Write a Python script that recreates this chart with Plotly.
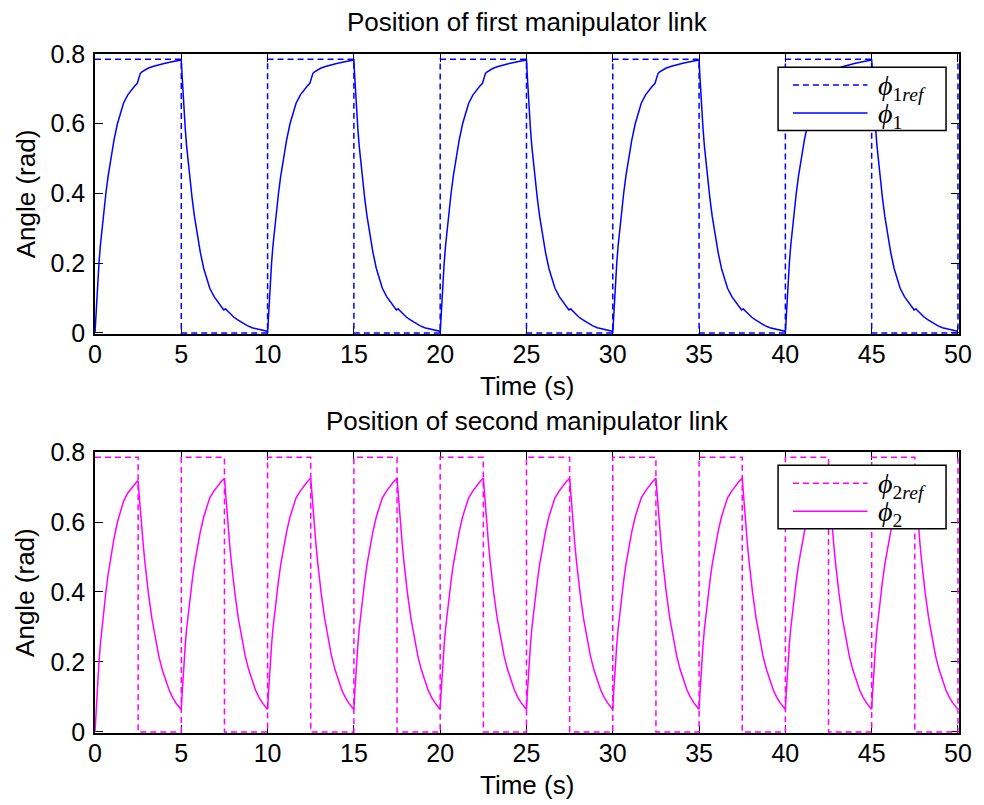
import plotly.graph_objects as go

# ---------------- data ----------------
# first link: one 10 s cycle (rise 0-5 s, decay 5-10 s)
top_cycle_t = [0, 0.05, 0.1, 0.16, 0.23, 0.31, 0.4, 0.5, 0.63, 0.76, 0.9, 1.1, 1.3, 1.48, 1.65,
               1.9, 2.1, 2.3, 2.45, 2.5, 2.56, 2.62, 2.7, 2.85, 3.07, 3.35, 3.64, 4.0, 4.4, 4.8, 5.0,
               5.05, 5.1, 5.16, 5.23, 5.31, 5.4, 5.5, 5.63, 5.76, 5.9, 6.1, 6.3, 6.48, 6.65, 6.9,
               7.1, 7.3, 7.46, 7.52, 7.57, 7.64, 7.86, 8.05, 8.25, 8.5, 8.82, 9.1, 9.4, 9.7, 9.97]
top_cycle_v = [0, 0.05, 0.097, 0.145, 0.2, 0.25, 0.297, 0.345, 0.4, 0.45, 0.497, 0.553, 0.6, 0.632, 0.659,
               0.683, 0.697, 0.708, 0.716, 0.725, 0.738, 0.744, 0.748, 0.753, 0.759, 0.764, 0.769, 0.773, 0.777, 0.781, 0.783,
               0.735, 0.688, 0.64, 0.585, 0.535, 0.488, 0.44, 0.385, 0.335, 0.29, 0.232, 0.185, 0.153, 0.128, 0.104,
               0.09, 0.077, 0.066, 0.068, 0.069, 0.065, 0.054, 0.045, 0.038, 0.03, 0.021, 0.015, 0.011, 0.007, 0.005]
top_cycle_starts = [0, 10, 20, 30, 40]

ref1_t = [0, 5, 10, 15, 20, 25, 30, 35, 40, 45, 50]
ref1_v = [0.785, 0, 0.785, 0, 0.785, 0, 0.785, 0, 0.785, 0, 0.785]

# second link: first 5 s cycle (starting from rest)
bot_first_t = [0, 0.05, 0.1, 0.16, 0.23, 0.31, 0.4, 0.5, 0.63, 0.76, 0.9, 1.1, 1.3, 1.48, 1.65,
               1.9, 2.1, 2.3, 2.45, 2.5,
               2.55, 2.6, 2.7, 2.8, 2.9, 3.0, 3.1, 3.3, 3.5, 3.7, 3.9, 4.1, 4.3, 4.5, 4.7, 4.97]
bot_first_v = [0, 0.05, 0.097, 0.145, 0.2, 0.25, 0.297, 0.345, 0.4, 0.45, 0.497, 0.553, 0.6, 0.632, 0.659,
               0.683, 0.697, 0.708, 0.716, 0.718,
               0.683, 0.65, 0.588, 0.532, 0.481, 0.436, 0.394, 0.323, 0.264, 0.216, 0.177, 0.145, 0.119, 0.098, 0.082, 0.065]
# second link: steady 5 s cycle
bot_cycle_t = [0, 0.05, 0.1, 0.16, 0.23, 0.31, 0.4, 0.5, 0.63, 0.76, 0.9, 1.1, 1.3, 1.48, 1.65,
               1.9, 2.1, 2.3, 2.5,
               2.55, 2.6, 2.7, 2.8, 2.9, 3.0, 3.1, 3.3, 3.5, 3.7, 3.9, 4.1, 4.3, 4.5, 4.7, 4.97]
bot_cycle_v = [0.065, 0.111, 0.154, 0.2, 0.249, 0.295, 0.338, 0.383, 0.432, 0.478, 0.521, 0.572, 0.615, 0.645, 0.669,
               0.689, 0.703, 0.715, 0.725,
               0.69, 0.656, 0.594, 0.537, 0.486, 0.44, 0.398, 0.326, 0.267, 0.218, 0.179, 0.146, 0.12, 0.099, 0.083, 0.066]
bot_cycle_starts = [5, 10, 15, 20, 25, 30, 35, 40, 45]

ref2_t = [0, 2.5, 5, 7.5, 10, 12.5, 15, 17.5, 20, 22.5, 25, 27.5, 30, 32.5, 35, 37.5, 40, 42.5, 45, 47.5, 50]
ref2_v = [0.785, 0, 0.785, 0, 0.785, 0, 0.785, 0, 0.785, 0, 0.785, 0, 0.785, 0, 0.785, 0, 0.785, 0, 0.785, 0, 0.785]

x_ticks = [0, 5, 10, 15, 20, 25, 30, 35, 40, 45, 50]
y_ticks = [0, 0.2, 0.4, 0.6, 0.8]
y_tick_labels = ["0", "0.2", "0.4", "0.6", "0.8"]

titles = ["Position of first manipulator link", "Position of second manipulator link"]
x_label = "Time (s)"
y_label = "Angle (rad)"
names = [["<i>ϕ</i><sub>1<i>ref</i></sub>", "<i>ϕ</i><sub>1</sub>"],
         ["<i>ϕ</i><sub>2<i>ref</i></sub>", "<i>ϕ</i><sub>2</sub>"]]

# ---------------- assemble full series ----------------
phi1_t, phi1_v = [], []
for s in top_cycle_starts:
    phi1_t += [s + t for t in top_cycle_t]
    phi1_v += list(top_cycle_v)

phi2_t, phi2_v = list(bot_first_t), list(bot_first_v)
for s in bot_cycle_starts:
    phi2_t += [s + t for t in bot_cycle_t]
    phi2_v += list(bot_cycle_v)

BLUE = "#0000ff"
MAG = "#ff00ff"
DASH = "6px,4px"
LW = 1.5

fig = go.Figure()
fig.add_trace(go.Scatter(x=ref1_t, y=ref1_v, mode="lines", name="phi1ref",
                         line=dict(color=BLUE, width=LW, dash=DASH, shape="hv"),
                         xaxis="x", yaxis="y"))
fig.add_trace(go.Scatter(x=phi1_t, y=phi1_v, mode="lines", name="phi1",
                         line=dict(color=BLUE, width=LW),
                         xaxis="x", yaxis="y"))
fig.add_trace(go.Scatter(x=ref2_t, y=ref2_v, mode="lines", name="phi2ref",
                         line=dict(color=MAG, width=LW, dash=DASH, shape="hv"),
                         xaxis="x2", yaxis="y2"))
fig.add_trace(go.Scatter(x=phi2_t, y=phi2_v, mode="lines", name="phi2",
                         line=dict(color=MAG, width=LW),
                         xaxis="x2", yaxis="y2"))

SANS = "Liberation Sans, Arial, sans-serif"
tickfont = dict(family=SANS, size=25, color="black")
axis_common = dict(showline=True, linecolor="black", linewidth=1.5, mirror="allticks",
                   ticks="inside", ticklen=8, tickwidth=1, tickcolor="black",
                   showgrid=False, zeroline=False, tickfont=tickfont, layer="below traces")

xa = dict(range=[0, 50.06], tickvals=x_ticks, ticktext=[str(v) for v in x_ticks],
          ticklabelstandoff=-3, **axis_common)
ya = dict(range=[-0.003, 0.8], tickvals=y_ticks, ticktext=y_tick_labels,
          ticklabelstandoff=3, **axis_common)

top_dom = [0.5876, 1.0]
bot_dom = [0.0, 0.4138]

labfont = dict(family=SANS, size=26, color="black")
annotations = []
shapes = []
for (ytitle, ylab_y, xlab_y, txt) in [(1.047, 0.794, 0.5115, titles[0]), (0.4595, 0.207, -0.0765, titles[1])]:
    annotations.append(dict(text=txt, x=0.5, y=ytitle, xref="paper", yref="paper",
                            xanchor="center", yanchor="middle", showarrow=False, font=labfont))
    annotations.append(dict(text=y_label, x=-0.0805, y=ylab_y, xref="paper", yref="paper",
                            xanchor="center", yanchor="middle", showarrow=False, font=labfont,
                            textangle=-90))
    annotations.append(dict(text=x_label, x=0.5, y=xlab_y, xref="paper", yref="paper",
                            xanchor="center", yanchor="middle", showarrow=False, font=labfont))

# legend boxes (drawn in axis-domain coordinates of each subplot)
legfont = dict(family="Liberation Serif, DejaVu Serif, serif", size=28, color="black")
for (xr, yr, color, labels) in [("x domain", "y domain", BLUE, names[0]),
                                ("x2 domain", "y2 domain", MAG, names[1])]:
    shapes.append(dict(type="rect", xref=xr, yref=yr, x0=0.7906, x1=0.985, y0=0.727, y1=0.953,
                       line=dict(color="black", width=1.5), fillcolor="white", layer="above"))
    for (ly, dash, lab) in [(0.889, DASH, labels[0]), (0.789, "solid", labels[1])]:
        shapes.append(dict(type="line", xref=xr, yref=yr, x0=0.8078, x1=0.8941, y0=ly, y1=ly,
                           line=dict(color=color, width=LW, dash=dash), layer="above"))
        annotations.append(dict(text=lab, x=0.9035, y=ly, xref=xr, yref=yr, xanchor="left",
                                yanchor="middle", showarrow=False, font=legfont, yshift=-2))

fig.update_layout(
    width=984, height=805,
    margin=dict(l=95, r=20, t=54, b=72),
    paper_bgcolor="white", plot_bgcolor="white",
    xaxis=dict(domain=[0, 1], anchor="y", **xa),
    yaxis=dict(domain=top_dom, anchor="x", **ya),
    xaxis2=dict(domain=[0, 1], anchor="y2", **xa),
    yaxis2=dict(domain=bot_dom, anchor="x2", **ya),
    annotations=annotations,
    shapes=shapes,
    showlegend=False,
)

fig.write_html("out.html")
